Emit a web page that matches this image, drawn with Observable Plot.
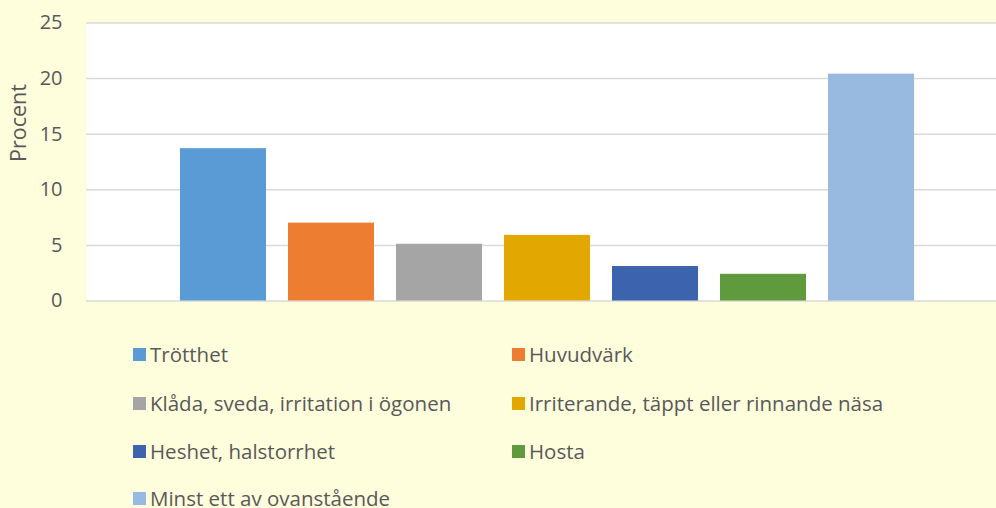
<!DOCTYPE html>
<html>
<head>
<meta charset="utf-8">
<script src="https://cdn.jsdelivr.net/npm/d3@7"></script>
<script src="https://cdn.jsdelivr.net/npm/@observablehq/plot@0.6"></script>
<style>
  html, body { margin: 0; padding: 0; }
  body { width: 996px; height: 508px; background: #FEFDDC; overflow: hidden; position: relative; font-family: "Open Sans", Lato, sans-serif; }
  #chart { position: absolute; left: 0; top: 0; }
  .legend { position: absolute; left: 0; top: 0; width: 996px; }
  .item { position: absolute; display: flex; align-items: center; font-size: 20.5px; color: #595959; white-space: nowrap; }
  .sw { width: 13px; height: 13px; margin-right: 4px; }
</style>
</head>
<body>
<div id="chart"></div>
<div class="legend" id="legend"></div>
<script>
const categories = [
  "Trötthet",
  "Huvudvärk",
  "Klåda, sveda, irritation i ögonen",
  "Irriterande, täppt eller rinnande näsa",
  "Heshet, halstorrhet",
  "Hosta",
  "Minst ett av ovanstående"
];
const values = [13.7, 7.0, 5.1, 5.9, 3.1, 2.4, 20.4];
const colors = ["#5B9BD5", "#ED7D31", "#A5A5A5", "#E2A700", "#3C63AD", "#5F9A3C", "#98B9E0"];
const yTicks = [0, 5, 10, 15, 20, 25];
const yLabel = "Procent";

const data = categories.map((c, i) => ({category: c, value: values[i]}));

const chart = Plot.plot({
  width: 996,
  height: 322,
  marginLeft: 86,
  marginRight: 0,
  marginTop: 22.5,
  marginBottom: 21.5,
  style: {background: "transparent", color: "#595959", fontFamily: "'Open Sans', Lato, sans-serif"},
  x: {domain: categories, range: [179, 915], paddingInner: 0.206, paddingOuter: 0, axis: null},
  y: {domain: [0, 25], axis: null},
  color: {domain: categories, range: colors},
  marks: [
    Plot.frame({fill: "white", stroke: null}),
    Plot.ruleY(yTicks, {stroke: "#D9D9D9", strokeWidth: 1.5}),
    Plot.barY(data, {x: "category", y: "value", fill: "category"}),
    Plot.axisY(yTicks, {tickSize: 0, tickPadding: 24, fontSize: 20, fill: "#595959", label: null}),
    Plot.text([yLabel], {frameAnchor: "left", dx: -67, rotate: -90, fontSize: 21.5, fill: "#595959"})
  ]
});
document.getElementById("chart").appendChild(chart);

// Legend: two columns
const legend = document.getElementById("legend");
const colX = [133, 512];
const rowY = [354, 403, 451, 498];
categories.forEach((c, i) => {
  const col = i % 2, row = Math.floor(i / 2);
  const el = document.createElement("div");
  el.className = "item";
  el.style.left = colX[col] + "px";
  el.style.top = (rowY[row] - 14) + "px";
  el.style.height = "28px";
  const sw = document.createElement("div");
  sw.className = "sw";
  sw.style.background = colors[i];
  const tx = document.createElement("span");
  tx.textContent = c;
  el.appendChild(sw);
  el.appendChild(tx);
  legend.appendChild(el);
});
</script>
</body>
</html>
